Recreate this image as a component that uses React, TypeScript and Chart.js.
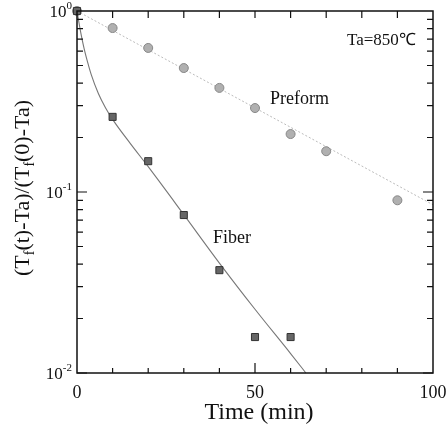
import React, { useEffect, useRef } from "react";
import { Chart, registerables } from "chart.js";
Chart.register(...registerables);

const preformTime = [0, 10, 20, 30, 40, 50, 60, 70, 90];
const preformValue = [1.0, 0.805, 0.625, 0.484, 0.376, 0.291, 0.209, 0.168, 0.09];
const fiberTime = [0, 10, 20, 30, 40, 50, 60];
const fiberValue = [1.0, 0.26, 0.148, 0.0746, 0.037, 0.0158, 0.0158];
const preformFitTime = [0, 100];
const preformFitValue = [1.0, 0.085];
const fiberFitTime = [0, 1, 2, 3, 4, 6, 8, 10, 15, 20, 30, 40, 50, 60, 64.3];
const fiberFitValue = [1.0, 0.77, 0.62, 0.52, 0.445, 0.35, 0.292, 0.252, 0.185, 0.138, 0.075, 0.0405, 0.0225, 0.0128, 0.01];
const xTickLabels = [0, 50, 100];
const xMinorTicks = [10, 20, 30, 40, 50, 60, 70, 80, 90];
const yDecades = [-2, -1, 0];

const SERIF = '"Liberation Serif", "Times New Roman", serif';

const framePlugin = {
  id: "frame",
  afterDraw(chart: any) {
    const ctx = chart.ctx;
    const { left, right, top, bottom } = chart.chartArea;
    const xs = chart.scales.x;
    const ys = chart.scales.y;
    ctx.save();
    ctx.strokeStyle = "#111";
    ctx.lineWidth = 1.5;
    ctx.strokeRect(left, top, right - left, bottom - top);
    ctx.lineWidth = 1.2;
    ctx.beginPath();
    for (const v of xMinorTicks) {
      const x = xs.getPixelForValue(v);
      const lb = v === 50 ? 10 : 5;
      ctx.moveTo(x, bottom);
      ctx.lineTo(x, bottom - lb);
      ctx.moveTo(x, top);
      ctx.lineTo(x, top + 7);
    }
    for (const k of yDecades) {
      if (k === 0) continue;
      for (let m = 1; m <= 9; m++) {
        const v = m * Math.pow(10, k);
        const y = ys.getPixelForValue(v);
        const len = m === 1 ? 10 : 6;
        ctx.moveTo(left, y);
        ctx.lineTo(left + len, y);
        ctx.moveTo(right, y);
        ctx.lineTo(right - len, y);
      }
    }
    ctx.stroke();

    ctx.fillStyle = "#111";
    ctx.textBaseline = "alphabetic";
    ctx.font = `18px ${SERIF}`;
    ctx.textAlign = "center";
    for (const v of xTickLabels) {
      ctx.fillText(String(v), xs.getPixelForValue(v), bottom + 25);
    }
    for (const k of yDecades) {
      const y = ys.getPixelForValue(Math.pow(10, k));
      const sup = String(k);
      ctx.font = `11px ${SERIF}`;
      const sw = ctx.measureText(sup).width;
      ctx.font = `17px ${SERIF}`;
      const bw = ctx.measureText("10").width;
      const xEnd = left - 5;
      ctx.textAlign = "left";
      ctx.fillText("10", xEnd - sw - bw, y + 6);
      ctx.font = `11px ${SERIF}`;
      ctx.fillText(sup, xEnd - sw, y - 2);
    }

    ctx.font = `24px ${SERIF}`;
    ctx.textAlign = "center";
    ctx.fillText("Time (min)", 259, bottom + 46);

    // y-axis title with subscripts
    const parts: [string, boolean][] = [
      ["(T", false], ["f", true], ["(t)-Ta)/(T", false], ["f", true], ["(0)-Ta)", false],
    ];
    const bigFont = `22px ${SERIF}`;
    const smallFont = `14px ${SERIF}`;
    let total = 0;
    for (const [t, s] of parts) {
      ctx.font = s ? smallFont : bigFont;
      total += ctx.measureText(t).width;
    }
    ctx.save();
    ctx.translate(29, 188);
    ctx.rotate(-Math.PI / 2);
    ctx.textAlign = "left";
    let cx = -total / 2;
    for (const [t, s] of parts) {
      ctx.font = s ? smallFont : bigFont;
      ctx.fillText(t, cx, s ? 5 : 0);
      cx += ctx.measureText(t).width;
    }
    ctx.restore();

    ctx.font = `17px ${SERIF}`;
    ctx.textAlign = "left";
    ctx.fillText("Ta=850\u2103", 347, 45);
    ctx.font = `18px ${SERIF}`;
    ctx.fillText("Preform", 270, 104);
    ctx.fillText("Fiber", 213, 243);
    ctx.restore();
  },
};

export default function App() {
  const ref = useRef<HTMLCanvasElement>(null);
  useEffect(() => {
    if (!ref.current) return;
    const chart = new Chart(ref.current, {
      type: "scatter",
      data: {
        datasets: [
          {
            label: "Preform fit",
            data: preformFitTime.map((t, i) => ({ x: t, y: preformFitValue[i] })),
            showLine: true,
            borderColor: "#bbbbbb",
            borderWidth: 1,
            borderDash: [2, 2],
            pointRadius: 0,
            clip: false,
            order: 4,
          },
          {
            label: "Fiber fit",
            data: fiberFitTime.map((t, i) => ({ x: t, y: fiberFitValue[i] })),
            showLine: true,
            borderColor: "#777777",
            borderWidth: 1.1,
            pointRadius: 0,
            cubicInterpolationMode: "monotone",
            clip: false,
            order: 3,
          },
          {
            label: "Preform",
            data: preformTime.map((t, i) => ({ x: t, y: preformValue[i] })),
            pointStyle: "circle",
            pointRadius: 4.5,
            backgroundColor: "#b0b0b0",
            borderColor: "#888888",
            borderWidth: 1,
            clip: false,
            order: 2,
          },
          {
            label: "Fiber",
            data: fiberTime.map((t, i) => ({ x: t, y: fiberValue[i] })),
            pointStyle: "rect",
            pointRadius: 5,
            backgroundColor: "#666666",
            borderColor: "#333333",
            borderWidth: 1,
            clip: false,
            order: 1,
          },
        ],
      },
      options: {
        responsive: false,
        animation: false,
        devicePixelRatio: 1,
        layout: { padding: { left: 77, right: 13, top: 11, bottom: 55 } },
        plugins: { legend: { display: false }, tooltip: { enabled: false } },
        scales: {
          x: {
            type: "linear",
            min: 0,
            max: 100,
            grid: { display: false },
            border: { display: false },
            ticks: { display: false },
            afterFit: (s: any) => { s.height = 0; },
          },
          y: {
            type: "logarithmic",
            min: 0.01,
            max: 1,
            grid: { display: false },
            border: { display: false },
            ticks: { display: false },
            afterFit: (s: any) => { s.width = 0; },
          },
        },
      },
      plugins: [framePlugin],
    } as any);
    return () => chart.destroy();
  }, []);
  return (
    <div style={{ position: "absolute", left: 0, top: 0, width: 446, height: 428, background: "#fff" }}>
      <canvas ref={ref} width={446} height={428} />
    </div>
  );
}
